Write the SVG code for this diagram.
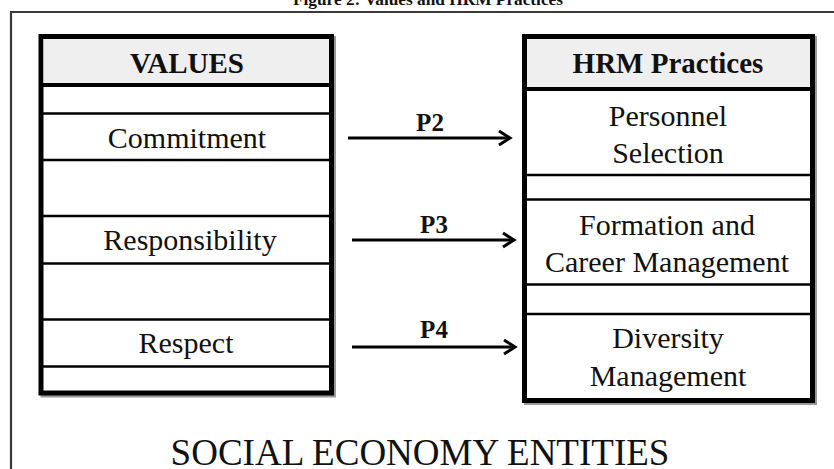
<svg xmlns="http://www.w3.org/2000/svg" width="834" height="469" viewBox="0 0 834 469">
  <style>
    .frame { fill: none; stroke: #3a3a3a; stroke-width: 2.2; }
    .box { fill: #ffffff; stroke: #000000; stroke-width: 5; }
    .shadow { fill: none; stroke: #9a9a9a; stroke-width: 5; }
    .head { fill: #efefef; }
    .sep { stroke: #000000; stroke-width: 2.6; }
    .sepThick { stroke: #000000; stroke-width: 4; }
    .t { font-family: "Liberation Serif", "Times New Roman", serif; fill: #111111; text-anchor: middle; }
    .hdr { font-size: 29px; font-weight: bold; }
    .item { font-size: 30px; }
    .lbl { font-size: 25px; font-weight: bold; }
    .ttl { font-size: 16px; font-weight: bold; }
    .big { font-size: 37px; }
    .conn { stroke: #000000; stroke-width: 3; fill: none; }
  </style>
  <defs>
    <marker id="chev" viewBox="-14 -9 17 18" refX="0" refY="0" markerWidth="17" markerHeight="18" markerUnits="userSpaceOnUse" orient="auto">
      <path d="M-11,-7 L0,0 L-11,7" fill="none" stroke="#000" stroke-width="3" stroke-linejoin="miter"/>
    </marker>
  </defs>

  <rect width="834" height="469" fill="#ffffff"/>

  <!-- figure caption, clipped at the top edge -->
  <text class="t ttl" x="428" y="5" textLength="270" lengthAdjust="spacingAndGlyphs">Figure 2: Values and HRM Practices</text>

  <!-- outer frame -->
  <path class="frame" d="M11,469 L11,12 L834,12"/>

  <!-- VALUES column -->
  <g id="values">
    <rect class="shadow" x="43" y="38.5" width="290.5" height="356.5"/>
    <rect class="box" x="41" y="36.5" width="290.5" height="356.5"/>
    <rect class="head" x="43.5" y="39" width="285.5" height="46"/>
    <line class="sepThick" x1="41" y1="85" x2="331.5" y2="85"/>
    <line class="sep" x1="41" y1="113.5" x2="331.5" y2="113.5"/>
    <line class="sep" x1="41" y1="160" x2="331.5" y2="160"/>
    <line class="sep" x1="41" y1="216" x2="331.5" y2="216"/>
    <line class="sep" x1="41" y1="263.5" x2="331.5" y2="263.5"/>
    <line class="sep" x1="41" y1="319.5" x2="331.5" y2="319.5"/>
    <line class="sep" x1="41" y1="366.5" x2="331.5" y2="366.5"/>
    <text class="t hdr" x="187" y="73">VALUES</text>
    <text class="t item" x="187" y="148">Commitment</text>
    <text class="t item" x="190" y="250">Responsibility</text>
    <text class="t item" x="186" y="353">Respect</text>
  </g>

  <!-- HRM Practices column -->
  <g id="hrm">
    <rect class="shadow" x="526.5" y="38.5" width="288" height="364"/>
    <rect class="box" x="524.5" y="36.5" width="288" height="364"/>
    <rect class="head" x="527" y="39" width="283" height="49"/>
    <line class="sepThick" x1="524.5" y1="89" x2="812.5" y2="89"/>
    <line class="sep" x1="524.5" y1="175" x2="812.5" y2="175"/>
    <line class="sep" x1="524.5" y1="199.5" x2="812.5" y2="199.5"/>
    <line class="sep" x1="524.5" y1="284.5" x2="812.5" y2="284.5"/>
    <line class="sep" x1="524.5" y1="314" x2="812.5" y2="314"/>
    <text class="t hdr" x="668" y="73">HRM Practices</text>
    <text class="t item" x="668" y="126">Personnel</text>
    <text class="t item" x="668" y="163">Selection</text>
    <text class="t item" x="667" y="235">Formation and</text>
    <text class="t item" x="667" y="272">Career Management</text>
    <text class="t item" x="668" y="348">Diversity</text>
    <text class="t item" x="668" y="386">Management</text>
  </g>

  <!-- propositions linking values to practices -->
  <g id="connectors">
    <line class="conn" x1="348" y1="138" x2="510" y2="138" marker-end="url(#chev)"/>
    <line class="conn" x1="352" y1="240" x2="514" y2="240" marker-end="url(#chev)"/>
    <line class="conn" x1="352" y1="347" x2="515" y2="347" marker-end="url(#chev)"/>
    <text class="t lbl" x="430" y="131">P2</text>
    <text class="t lbl" x="434" y="233">P3</text>
    <text class="t lbl" x="434" y="338">P4</text>
  </g>

  <text class="t big" x="420" y="465">SOCIAL ECONOMY ENTITIES</text>
</svg>
